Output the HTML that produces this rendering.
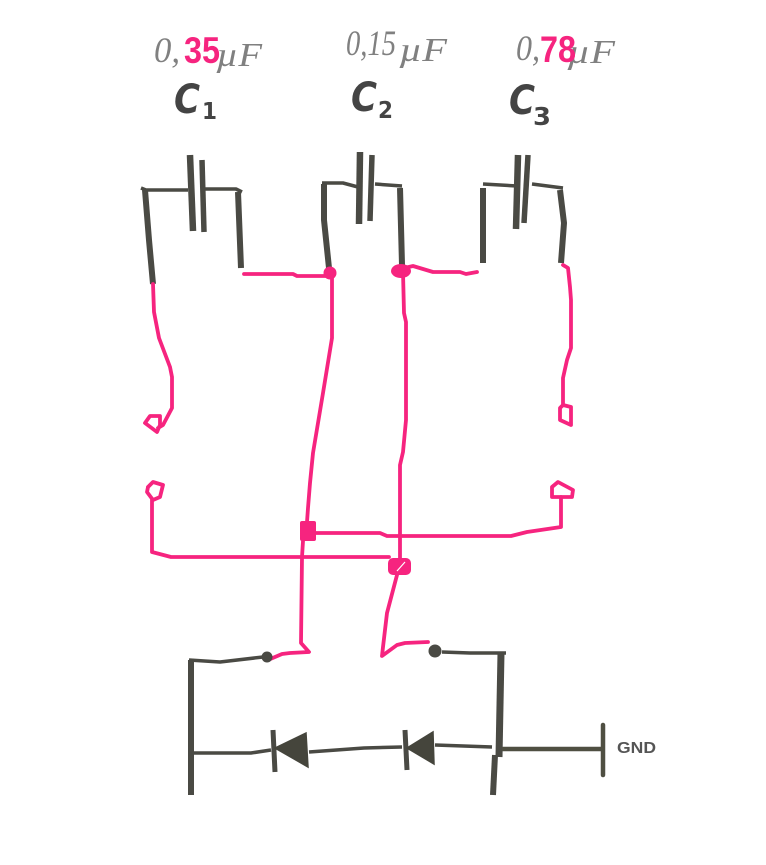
<!DOCTYPE html>
<html>
<head>
<meta charset="utf-8">
<style>
html,body{margin:0;padding:0;background:#fff;}
svg{display:block;}
.d{fill:none;stroke:#4a4a44;stroke-linejoin:round;stroke-linecap:butt;}
.p{fill:none;stroke:#f6247f;stroke-width:3.8;stroke-linejoin:round;stroke-linecap:round;}
.h{font-family:"Liberation Serif",serif;font-style:italic;fill:#808080;}
.c{font-family:"DejaVu Sans","Liberation Sans",sans-serif;font-weight:bold;fill:#444;}
.n{font-family:"Liberation Sans",sans-serif;font-weight:bold;fill:#f6247f;}
</style>
</head>
<body>
<svg width="766" height="865" viewBox="0 0 766 865" xmlns="http://www.w3.org/2000/svg">
<rect width="766" height="865" fill="#fff"/>

<!-- handwritten values -->
<text class="h" x="154" y="62" font-size="36" textLength="26" lengthAdjust="spacingAndGlyphs">0,</text>
<text class="h" x="216" y="66" font-size="34" textLength="46" lengthAdjust="spacingAndGlyphs">µF</text>
<text class="n" x="184" y="63" font-size="37" textLength="36" lengthAdjust="spacingAndGlyphs">35</text>

<text class="h" x="346" y="55" font-size="36" textLength="50" lengthAdjust="spacingAndGlyphs">0,15</text>
<text class="h" x="399" y="61" font-size="34" textLength="48" lengthAdjust="spacingAndGlyphs">µF</text>

<text class="h" x="516" y="60" font-size="36" textLength="24" lengthAdjust="spacingAndGlyphs">0,</text>
<text class="h" x="567" y="63" font-size="34" textLength="48" lengthAdjust="spacingAndGlyphs">µF</text>
<text class="n" x="540" y="62" font-size="37" textLength="36" lengthAdjust="spacingAndGlyphs">78</text>

<!-- component names -->
<text class="c" x="174" y="113" font-size="40" textLength="26" lengthAdjust="spacingAndGlyphs" font-style="italic">C</text>
<text class="c" x="202" y="119" font-size="23" textLength="15" lengthAdjust="spacingAndGlyphs">1</text>
<text class="c" x="351" y="111" font-size="40" textLength="26" lengthAdjust="spacingAndGlyphs" font-style="italic">C</text>
<text class="c" x="378" y="118" font-size="23" textLength="15" lengthAdjust="spacingAndGlyphs">2</text>
<text class="c" x="509" y="114" font-size="40" textLength="26" lengthAdjust="spacingAndGlyphs" font-style="italic">C</text>
<text class="c" x="533" y="125" font-size="25" textLength="18" lengthAdjust="spacingAndGlyphs">3</text>

<!-- capacitor C1 -->
<path class="d" stroke-width="6.5" d="M190 155L193 231"/>
<path class="d" stroke-width="5.5" d="M202 160L204 232"/>
<path class="d" stroke-width="3.5" d="M141 188L146 190L188 190M205 189L236 189L242 192"/>
<path class="d" stroke-width="6" d="M145 190L149 240L153 284M238 192L241 268"/>

<!-- capacitor C2 -->
<path class="d" stroke-width="6.5" d="M360 152L359 224"/>
<path class="d" stroke-width="5.5" d="M372 155L370 221"/>
<path class="d" stroke-width="3.5" d="M322 183L343 183L358 187M375 184L402 186"/>
<path class="d" stroke-width="6" d="M324 184L324 220L329 268M400 188L402 265"/>

<!-- capacitor C3 -->
<path class="d" stroke-width="6.5" d="M518 155L516 229"/>
<path class="d" stroke-width="5.5" d="M528 155L524 223"/>
<path class="d" stroke-width="3.5" d="M483 184L517 186M532 184L563 188"/>
<path class="d" stroke-width="6" d="M483 188L483 263M560 190L564 223L561 263"/>

<!-- pink wiring, top -->
<path class="p" d="M244 274L293 274L297 276L330 276"/>
<circle cx="330" cy="273" r="6.5" fill="#f6247f"/>
<ellipse cx="401" cy="271" rx="10" ry="7" fill="#f6247f"/>
<path class="p" d="M400 269L413 266L433 272L460 272L466 274L477 272"/>

<!-- C1 left to switch contact -->
<path class="p" d="M153 284L154 312L159 338L170 367L172 377L172 408L163 425L158 428M160 416L150 416L145 423L157 432L160 425L160 416"/>
<!-- C2 left to junction -->
<path class="p" d="M332 277L332 338L323 393L313 453L310 483L308 508L307 522"/>
<!-- C2 right to junction -->
<path class="p" d="M403 272L404 313L406 322L406 420L403 452L400 465L400 558"/>
<!-- C3 right to contact -->
<path class="p" d="M563 265L568 268L570 287L571 300L571 348L567 360L563 378L563 405M563 405L571 407L571 425L560 420L560 408L563 405"/>

<!-- lower contacts -->
<path class="p" d="M148 487L153 482L163 485L160 497L153 500L147 492L148 487"/>
<path class="p" d="M152 500L152 552L171 557L389 557"/>
<path class="p" d="M561 497L561 527L527 532L511 536L387 536L380 533L316 533"/>
<path class="p" d="M552 497L552 487L558 482L573 490L572 497L552 497"/>

<!-- junctions -->
<rect x="300" y="521" width="16" height="20" rx="2" fill="#f6247f"/>
<rect x="388" y="558" width="23" height="17" rx="5" fill="#f6247f"/>
<path d="M397 571L405 562" stroke="#fff" stroke-width="1.2" fill="none"/>

<!-- to switches -->
<path class="p" d="M303 541L302 557L301 643L309 652L290 653L282 654L268 660"/>
<path class="p" d="M397 575L387 613L383 647L382 656L397 645L405 643L428 642"/>

<!-- lower dark circuit -->
<circle cx="267" cy="657" r="5.5" fill="#4a4a44"/>
<circle cx="435" cy="651" r="6.5" fill="#4a4a44"/>
<path class="d" stroke-width="3.5" d="M189 660L220 662L263 657M442 652L470 653L506 653"/>
<path class="d" stroke-width="6" d="M191 660L191 795"/>
<path class="d" stroke-width="7" d="M501 653L499 757"/>
<path class="d" stroke-width="6" d="M495 755L493 795"/>
<path class="d" stroke-width="3.5" d="M193 753L251 753L271 750M309 752L364 748L402 747M435 745L492 747"/>

<!-- diodes -->
<path class="d" stroke-width="5" d="M273 730L275 772M405 730L407 770"/>
<polygon points="275,748 306,733 308,767" fill="#45453c" stroke="#45453c" stroke-width="1.5"/>
<polygon points="407,748 433,732 434,764" fill="#45453c" stroke="#45453c" stroke-width="1.5"/>

<!-- GND -->
<path class="d" stroke-width="4.5" d="M502 749L602 749" style="stroke:#4f4f42"/>
<path class="d" stroke-width="4.5" d="M603 725L603 775" style="stroke:#4f4f42;stroke-linecap:round"/>
<text x="617" y="753" font-family="'Liberation Sans',sans-serif" font-weight="bold" font-size="16" fill="#555" textLength="39" lengthAdjust="spacingAndGlyphs">GND</text>
</svg>
</body>
</html>
